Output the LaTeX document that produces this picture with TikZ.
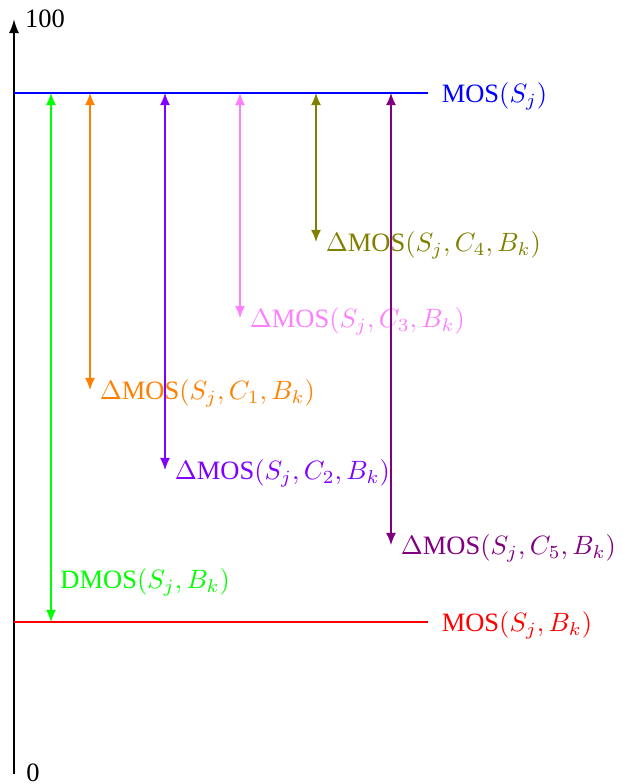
\documentclass[tikz,border=0pt]{standalone}
\usepackage[no-math]{fontspec}
\setmainfont{Liberation Serif}
\usetikzlibrary{arrows.meta}
\definecolor{cgreen}{rgb}{0,1,0}
\definecolor{corange}{rgb}{1,0.5,0}
\definecolor{cviolet}{rgb}{0.5,0,1}
\definecolor{cpink}{rgb}{1,0.5,1}
\definecolor{colive}{rgb}{0.5,0.5,0}
\definecolor{cpurple}{rgb}{0.5,0,0.5}
\begin{document}
\begin{tikzpicture}[x=0.3774pt,y=-0.3774pt,
  level/.style={line width=0.75pt},
  diffarrow/.style={{Latex[length=4.6pt,width=3.8pt]}-{Latex[length=4.6pt,width=3.8pt]},line width=0.5pt},
  lab/.style={anchor=west,inner sep=3pt,yshift=-1.3pt}]
\useasboundingbox (0,0) rectangle (634,784);
% axis
\coordinate (a0) at (14,774);
\coordinate (a1) at (14,19);
\draw[-{Latex[length=5.3pt,width=3.8pt]},line width=0.8pt] (a0) -- (a1);
\node[lab,yshift=1.3pt] (t100) at ([xshift=1pt]a1) {100};
\node[lab,yshift=1.9pt] (t0) at ([xshift=1.5pt]a0) {0};
% levels
\coordinate (b0) at (14,93);
\coordinate (b1) at (428,93);
\coordinate (r0) at (14,622);
\coordinate (r1) at (428,622);
\draw[level,blue] (b0) -- (b1);
\node[lab,blue] (mos) at ([xshift=2pt]b1) {MOS\((S_j)\)};
\draw[level,red] (r0) -- (r1);
\node[lab,red] (mosb) at ([xshift=2pt]r1) {MOS\((S_j,B_k)\)};
% arrows
\coordinate (g0) at (51,93);  \coordinate (g1) at (51,622);
\coordinate (o0) at (90,93);  \coordinate (o1) at (90,390);
\coordinate (v0) at (165,93); \coordinate (v1) at (165,470);
\coordinate (p0) at (240,93); \coordinate (p1) at (240,318);
\coordinate (l0) at (316,93); \coordinate (l1) at (316,242);
\coordinate (u0) at (391,93); \coordinate (u1) at (391,545);
\draw[diffarrow,cgreen] (g0) -- (g1);
\node[lab,cgreen] (dmos) at (52,579) {DMOS\((S_j,B_k)\)};
\draw[diffarrow,corange] (o0) -- (o1);
\node[lab,corange] (d1) at ([xshift=0.5pt]o1) {\(\Delta\)MOS\((S_j,C_1,B_k)\)};
\draw[diffarrow,cviolet] (v0) -- (v1);
\node[lab,cviolet] (d2) at ([xshift=0.5pt]v1) {\(\Delta\)MOS\((S_j,C_2,B_k)\)};
\draw[diffarrow,cpink] (p0) -- (p1);
\node[lab,cpink] (d3) at ([xshift=0.5pt]p1) {\(\Delta\)MOS\((S_j,C_3,B_k)\)};
\draw[diffarrow,colive] (l0) -- (l1);
\node[lab,colive] (d4) at ([xshift=0.5pt]l1) {\(\Delta\)MOS\((S_j,C_4,B_k)\)};
\draw[diffarrow,cpurple] (u0) -- (u1);
\node[lab,cpurple] (d5) at ([xshift=0.5pt]u1) {\(\Delta\)MOS\((S_j,C_5,B_k)\)};
\end{tikzpicture}
\end{document}
